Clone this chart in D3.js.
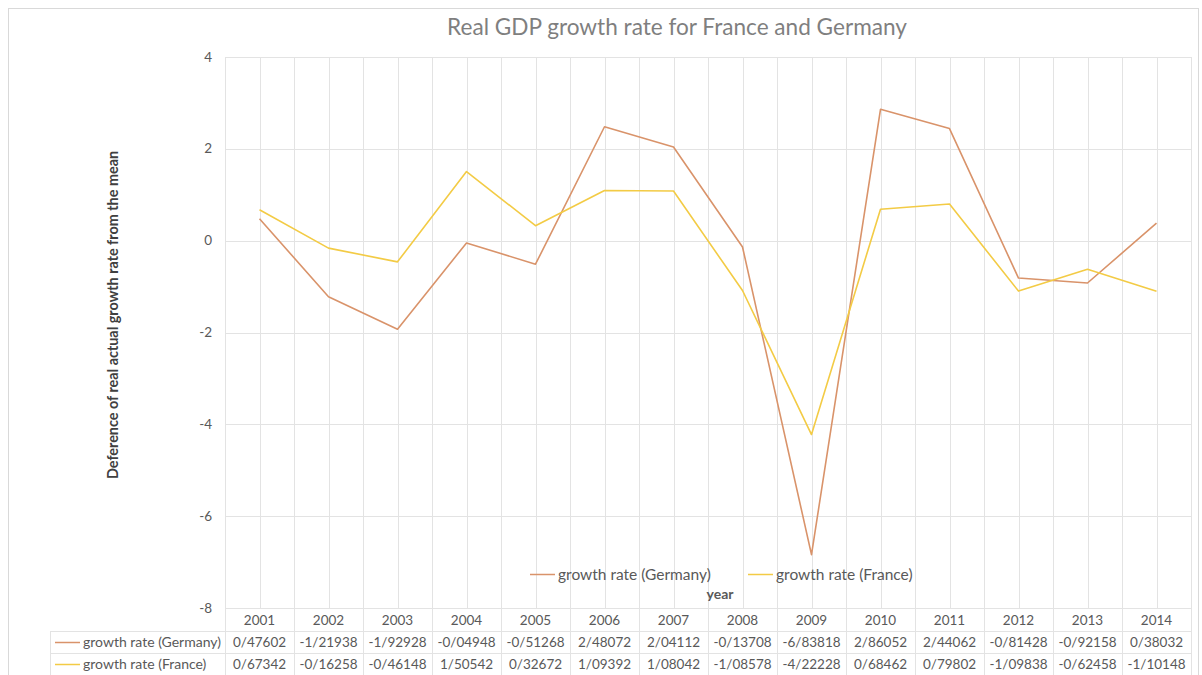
<!DOCTYPE html>
<html><head><meta charset="utf-8">
<script src="https://cdn.jsdelivr.net/npm/d3@7"></script>
<style>
body{margin:0;background:#fff;}
svg{display:block;}
text{font-family:Lato,"Open Sans",sans-serif;}
</style></head>
<body><svg id="c" width="1202" height="675"></svg>
<script>
const years = ["2001","2002","2003","2004","2005","2006","2007","2008","2009","2010","2011","2012","2013","2014"];
const germany = [0.47602,-1.21938,-1.92928,-0.04948,-0.51268,2.48072,2.04112,-0.13708,-6.83818,2.86052,2.44062,-0.81428,-0.92158,0.38032];
const france = [0.67342,-0.16258,-0.46148,1.50542,0.32672,1.09392,1.08042,-1.08578,-4.22228,0.68462,0.79802,-1.09838,-0.62458,-1.10148];
const seriesNames = ["growth rate (Germany)","growth rate (France)"];
const yTicks = [4,2,0,-2,-4,-6,-8];
const title = "Real GDP growth rate for France and Germany";
const yTitle = "Deference of real actual growth rate from the mean";
const xTitle = "year";

const colors = ["#D9936A","#F3CB45"];
const series = [germany, france];
const svg = d3.select("#c");
const L=225, R=1191, T=57, B=608;
const x = d3.scaleBand().domain(years).range([L,R]);
const y = d3.scaleLinear().domain([-8,4]).range([B,T]);
const grid="#e3e3e3", txt="#595959";

// outer border
svg.append("rect").attr("x",8.5).attr("y",8.5).attr("width",1190).attr("height",680)
  .attr("fill","none").attr("stroke","#d9d9d9");

// horizontal gridlines
svg.append("g").selectAll("line").data(yTicks).join("line")
  .attr("x1",L).attr("x2",R).attr("y1",d=>Math.round(y(d))+0.5).attr("y2",d=>Math.round(y(d))+0.5)
  .attr("stroke",grid);
// vertical centre lines (plot only)
svg.append("g").selectAll("line").data(years).join("line")
  .attr("x1",d=>Math.round(x(d)+x.bandwidth()/2)+0.5).attr("x2",d=>Math.round(x(d)+x.bandwidth()/2)+0.5)
  .attr("y1",T).attr("y2",B).attr("stroke",grid);
// band boundary lines (plot + table)
const bounds = years.map(d=>x(d)).concat([R]);
svg.append("g").selectAll("line").data(bounds).join("line")
  .attr("x1",d=>Math.round(d)+0.5).attr("x2",d=>Math.round(d)+0.5)
  .attr("y1",T).attr("y2",675).attr("stroke",grid);

// y tick labels
svg.append("g").selectAll("text").data(yTicks).join("text")
  .attr("x",212).attr("y",d=>y(d)+4.5).attr("text-anchor","end")
  .attr("font-size",13.5).attr("fill",txt).text(d=>d);

// table
svg.append("line").attr("x1",50).attr("x2",R).attr("y1",631.5).attr("y2",631.5).attr("stroke",grid);
svg.append("line").attr("x1",50).attr("x2",R).attr("y1",653.5).attr("y2",653.5).attr("stroke",grid);
svg.append("line").attr("x1",50.5).attr("x2",50.5).attr("y1",631).attr("y2",675).attr("stroke",grid);
svg.append("g").selectAll("text").data(years).join("text")
  .attr("x",d=>x(d)+x.bandwidth()/2).attr("y",624.5).attr("text-anchor","middle")
  .attr("font-size",13.5).attr("fill",txt).text(d=>d);
const fmt = v=>d3.format(".5f")(v).replace("−","-").replace(".","/");
series.forEach((s,i)=>{
  const cy = 647+i*22;
  svg.append("line").attr("x1",55).attr("x2",80).attr("y1",cy-4.5).attr("y2",cy-4.5)
    .attr("stroke",colors[i]).attr("stroke-width",1.5);
  svg.append("text").attr("x",83).attr("y",cy).attr("font-size",14).attr("fill",txt).text(seriesNames[i]);
  svg.append("g").selectAll("text").data(s).join("text")
    .attr("x",(d,j)=>x(years[j])+x.bandwidth()/2).attr("y",cy).attr("text-anchor","middle")
    .attr("font-size",13.5).attr("fill",txt).text(d=>fmt(d));
});

// lines
const line = d3.line().x((d,i)=>x(years[i])+x.bandwidth()/2).y(d=>y(d));
series.forEach((s,i)=>{
  svg.append("path").datum(s).attr("d",line).attr("fill","none")
    .attr("stroke",colors[i]).attr("stroke-width",1.6).attr("stroke-linejoin","round");
});

// legend
const legX=[530,748];
series.forEach((s,i)=>{
  svg.append("line").attr("x1",legX[i]).attr("x2",legX[i]+25).attr("y1",574.5).attr("y2",574.5)
    .attr("stroke",colors[i]).attr("stroke-width",1.5);
  svg.append("text").attr("x",legX[i]+28).attr("y",579.5).attr("font-size",15.5).attr("fill",txt).text(seriesNames[i]);
});

// axis titles
svg.append("text").attr("x",720).attr("y",599).attr("text-anchor","middle")
  .attr("font-size",14).attr("font-weight","bold").attr("fill",txt).text(xTitle);
svg.append("text").attr("transform","translate(118,315) rotate(-90)").attr("text-anchor","middle")
  .attr("font-size",14.4).attr("font-weight","bold").attr("fill","#404040").text(yTitle);

// title
svg.append("text").attr("x",677).attr("y",35).attr("text-anchor","middle")
  .attr("font-size",22.6).attr("fill","#7f7f7f").text(title);
</script></body></html>
